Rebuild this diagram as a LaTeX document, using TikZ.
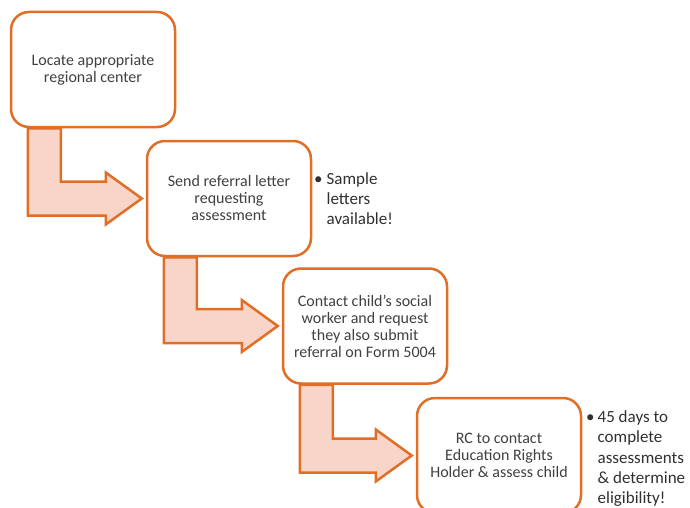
\documentclass[tikz,border=0pt]{standalone}
\usepackage{fontspec}
\setmainfont{Carlito}
\usetikzlibrary{calc}
\definecolor{orng}{HTML}{E06E26}
\definecolor{peach}{HTML}{F8D5C8}
\definecolor{boxtxt}{HTML}{404040}
\definecolor{notetxt}{HTML}{303030}
\tikzset{
  stepbox/.style={draw=orng, line width=2.5pt, fill=white, rounded corners=18pt,
    minimum width=164pt, minimum height=115pt, inner sep=0pt, align=center,
    text=boxtxt, font=\fontsize{16}{17}\selectfont},
  flowarrow/.style={draw=orng, line width=2.5pt, fill=peach, line join=miter},
  note/.style={anchor=base west, inner sep=0pt, text=notetxt, font=\fontsize{17}{20}\selectfont}
}
\begin{document}
\begin{tikzpicture}[x=1pt,y=-1pt]
\useasboundingbox (0,0) rectangle (690,508);
\clip (0,0) rectangle (690,508);
% boxes (coordinates only first, for arrow geometry)
\path (93,69.5) node[stepbox, draw=none, fill=none] (b1) {}
      (229,198.5) node[stepbox, draw=none, fill=none] (b2) {}
      (365,326) node[stepbox, draw=none, fill=none] (b3) {}
      (499,455.5) node[stepbox, draw=none, fill=none] (b4) {};
% arrows
\foreach \a/\b in {b1/b2, b2/b3, b3/b4}{
  \draw[flowarrow] let \p1=(\a.south west), \p2=(\b.west) in
    (\x1+18pt,\y1) -- (\x1+51pt,\y1) -- (\x1+51pt,\y2+17pt) -- (\x2-40pt,\y2+17pt)
    -- (\x2-40pt,\y2+26pt) -- (\x2-4pt,\y2) -- (\x2-40pt,\y2-26pt)
    -- (\x2-40pt,\y2-17pt) -- (\x1+18pt,\y2-17pt) -- cycle;
}
% visible boxes
\node[stepbox] (n1) at (b1) {Locate appropriate\\regional center};
\node[stepbox] (n2) at (b2) {Send referral letter\\requesting\\assessment};
\node[stepbox] (n3) at (b3) {Contact child’s social\\worker and request\\they also submit\\referral on Form 5004};
\node[stepbox] (n4) at (b4) {RC to contact\\Education Rights\\Holder \& assess child};
% notes
\node[note] (t1) at (314,184) {\begin{tabular}[t]{@{}l@{\hspace{4pt}}l@{}}\textbullet & Sample\\ & letters\\ & available!\end{tabular}};
\node[note] (t2) at (586,422) {\begin{tabular}[t]{@{}l@{\hspace{3pt}}l@{}}\textbullet & 45 days to\\[0.5pt] & complete\\[0.5pt] & assessments\\ & \& determine\\ & eligibility!\end{tabular}};
\end{tikzpicture}
\end{document}
